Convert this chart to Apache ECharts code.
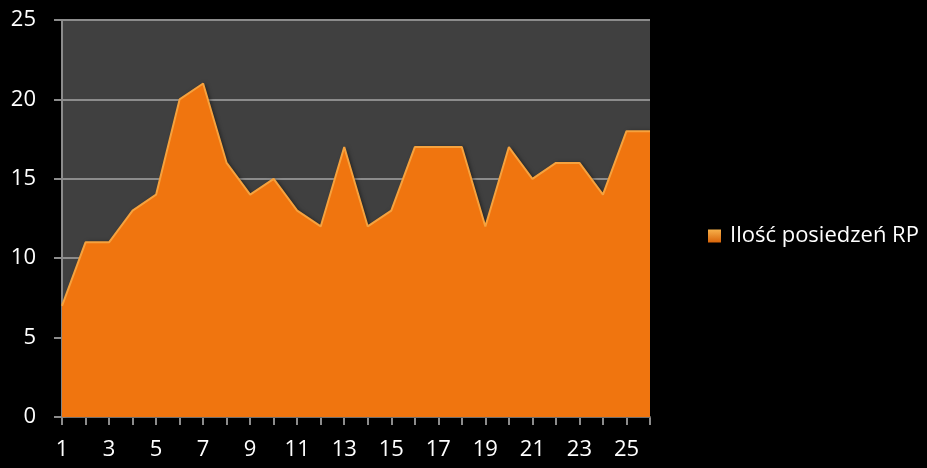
<!DOCTYPE html>
<html><head><meta charset="utf-8">
<script src="https://cdn.jsdelivr.net/npm/echarts@6/dist/echarts.min.js"></script>
<style>html,body{margin:0;padding:0;background:#000;}#c{width:927px;height:468px;}</style>
</head><body><div id="c"></div>
<script>
const categories = ['1','2','3','4','5','6','7','8','9','10','11','12','13','14','15','16','17','18','19','20','21','22','23','24','25','26'];
const values = [7,11,11,13,14,20,21,16,14,15,13,12,17,12,13,17,17,17,12,17,15,16,16,14,18,18];
const seriesName = 'Ilość posiedzeń RP';
const FONT = '"Open Sans", "Liberation Sans", sans-serif';
const chart = echarts.init(document.getElementById('c'));
chart.setOption({
  backgroundColor: '#000000',
  animation: false,
  grid: {left: 62, right: 277, top: 20, bottom: 51, show: true, backgroundColor: '#404040', borderWidth: 0},
  legend: {
    show: true, orient: 'vertical', left: 703, top: 220,
    itemWidth: 13, itemHeight: 13, itemGap: 8,
    textStyle: {color: '#ffffff', fontSize: 22, fontFamily: FONT, padding: [0,0,0,4]},
    data: [{name: seriesName, icon: 'rect', itemStyle: {color: new echarts.graphic.LinearGradient(0,0,0,1,[{offset:0,color:'#f7b04a'},{offset:1,color:'#d9650a'}])}}]
  },
  xAxis: {
    type: 'category', data: categories, boundaryGap: false,
    axisLine: {lineStyle: {color: '#8c8c8c', width: 2}},
    axisTick: {show: true, interval: 0, length: 8, lineStyle: {color: '#8c8c8c', width: 2}},
    axisLabel: {interval: 1, color: '#ffffff', fontSize: 22, fontFamily: FONT, margin: 22},
    splitLine: {show: false}
  },
  yAxis: {
    type: 'value', min: 0, max: 25, interval: 5,
    axisLine: {show: true, lineStyle: {color: '#8c8c8c', width: 2}},
    axisTick: {show: true, length: 8, lineStyle: {color: '#8c8c8c', width: 2}},
    axisLabel: {color: '#ffffff', fontSize: 22, fontFamily: FONT, margin: 26},
    splitLine: {show: true, lineStyle: {color: '#8c8c8c', width: 2}}
  },
  series: [{
    name: seriesName, type: 'line', data: values,
    symbol: 'none', z: 3,
    lineStyle: {color: '#f6a23e', width: 2},
    itemStyle: {color: '#f0750f'},
    areaStyle: {color: '#f0750f', opacity: 1, shadowColor: 'rgba(0,0,0,0.5)', shadowBlur: 4, shadowOffsetX: 2}
  }]
});
</script></body></html>
